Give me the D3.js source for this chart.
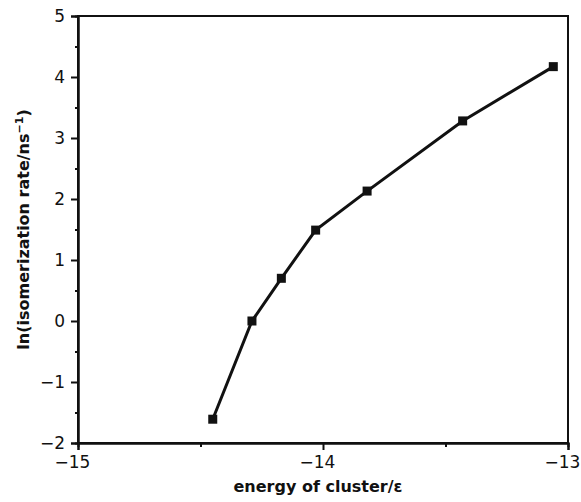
<!DOCTYPE html>
<html>
<head>
<meta charset="utf-8">
<script src="https://d3js.org/d3.v7.min.js"></script>
<style>
  body { margin: 0; background: #fff; }
  text { font-family: "DejaVu Sans", sans-serif; fill: #111; }
</style>
</head>
<body>
<div id="chart"></div>
<script>
// energy of cluster (epsilon) vs ln(isomerization rate / ns^-1)
var energy = [-14.45, -14.29, -14.17, -14.03, -13.82, -13.43, -13.06];
var lnRate = [-1.61, 0.0, 0.70, 1.49, 2.13, 3.28, 4.17];
var xTicks = [-15, -14, -13];
var yTicks = [-2, -1, 0, 1, 2, 3, 4, 5];
var xMinor = [-14.5, -13.5];
var yMinor = [-1.5, -0.5, 0.5, 1.5, 2.5, 3.5, 4.5];

var W = 581, H = 502;
var margin = { top: 16, right: 13, bottom: 59, left: 78 };

var svg = d3.select("#chart").append("svg")
    .attr("width", W)
    .attr("height", H);

var x = d3.scaleLinear().domain([-15, -13]).range([margin.left, W - margin.right]);
var y = d3.scaleLinear().domain([-2, 5]).range([H - margin.bottom, margin.top]);

// frame
svg.append("rect")
    .attr("x", x(-15)).attr("y", y(5))
    .attr("width", x(-13) - x(-15)).attr("height", y(-2) - y(5))
    .attr("fill", "none").attr("stroke", "#111").attr("stroke-width", 2);

function fmt(d) { return d < 0 ? "\u2212" + Math.abs(d) : d; }

// y axis
svg.append("g")
    .attr("transform", "translate(" + x(-15) + ",0)")
    .call(d3.axisLeft(y).tickValues(yTicks).tickSize(7).tickPadding(6).tickFormat(fmt));
svg.append("g")
    .attr("transform", "translate(" + x(-15) + ",0)")
    .call(d3.axisLeft(y).tickValues(yMinor).tickSize(3).tickFormat(""));

// x axis
var xAxis = svg.append("g")
    .attr("transform", "translate(0," + y(-2) + ")")
    .call(d3.axisBottom(x).tickValues(xTicks).tickSize(7).tickPadding(6).tickFormat(fmt));
xAxis.selectAll(".tick text").attr("dx", -6);
svg.append("g")
    .attr("transform", "translate(0," + y(-2) + ")")
    .call(d3.axisBottom(x).tickValues(xMinor).tickSize(4).tickFormat(""));

svg.selectAll(".domain").attr("stroke", "#111").attr("stroke-width", 2);
svg.selectAll(".tick line").attr("stroke", "#111").attr("stroke-width", 2);
svg.selectAll(".tick text").style("font-size", "17px").attr("fill", "#111");

// axis titles
svg.append("text")
    .attr("x", 318)
    .attr("y", 492)
    .attr("text-anchor", "middle")
    .style("font-size", "16px")
    .style("font-weight", "bold")
    .text("energy of cluster/\u03b5");

svg.append("text")
    .attr("transform", "translate(29," + y(1.5) + ") rotate(-90)")
    .attr("text-anchor", "middle")
    .style("font-size", "16px")
    .style("font-weight", "bold")
    .html("ln(isomerization rate/ns<tspan dy='-6' font-size='11'>\u22121</tspan><tspan dy='6'>)</tspan>");

// data
var pts = energy.map(function (e, i) { return { e: e, r: lnRate[i] }; });

svg.append("path")
    .datum(pts)
    .attr("fill", "none")
    .attr("stroke", "#111")
    .attr("stroke-width", 3)
    .attr("d", d3.line().x(function (d) { return x(d.e); }).y(function (d) { return y(d.r); }));

svg.selectAll(".pt")
    .data(pts).enter().append("rect")
    .attr("x", function (d) { return x(d.e) - 4.5; })
    .attr("y", function (d) { return y(d.r) - 4.5; })
    .attr("width", 9).attr("height", 9)
    .attr("fill", "#111");
</script>
</body>
</html>
